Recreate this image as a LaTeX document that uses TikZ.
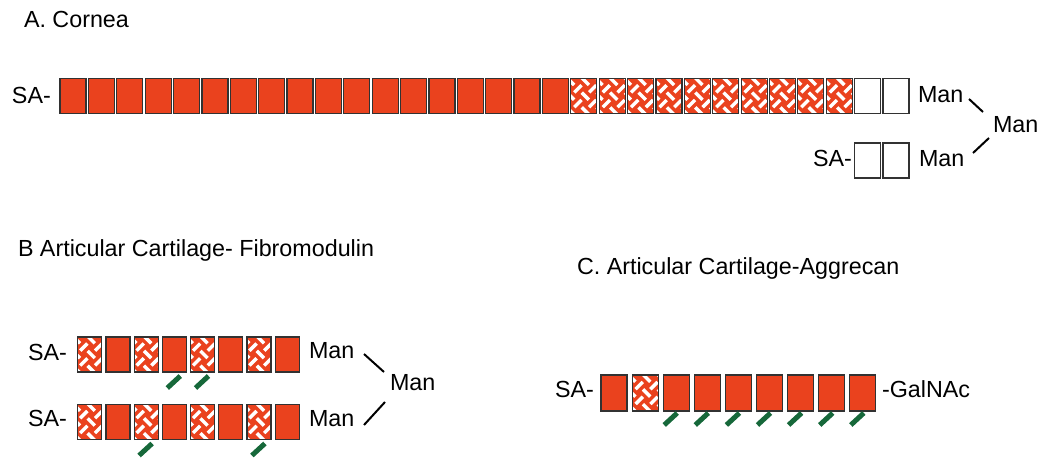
\documentclass[tikz,border=0pt]{standalone}
\usepackage{fontspec}
\setmainfont{Liberation Sans}
\usetikzlibrary{calc}
\definecolor{chainred}{RGB}{234,66,30}
\definecolor{sulfgreen}{RGB}{22,104,58}
\definecolor{edgegray}{RGB}{50,50,50}

\begin{document}
\begin{tikzpicture}[x=1pt,y=-1pt,
  every node/.style={inner sep=0pt, outer sep=0pt},
  lbl/.style={anchor=base west, font=\fontsize{23.3}{28}\selectfont},
  sugar/.style={draw=edgegray, line width=1.2pt},
  unitA/.style={sugar, minimum width=26pt, minimum height=35pt},
  unitB/.style={sugar, minimum width=24pt, minimum height=35pt},
  unitC/.style={sugar, minimum width=26pt, minimum height=36pt},
  solid red/.style={fill=chainred},
  empty/.style={fill=white},
  % diagonal basket weave of short white bars
  weave/.style={fill=chainred, path picture={
    \coordinate (pc) at (path picture bounding box.center);
    \foreach \u in {-3,...,3}{
      \foreach \v in {-3,...,3}{
        \pgfmathtruncatemacro\wp{mod(\u+\v+8,2)}
        \pgfmathsetmacro\cx{(\u-\v)*7.4+1.5}
        \pgfmathsetmacro\cy{(\u+\v)*7.4}
        \ifnum\wp=0
          \draw[white, line width=3.4pt]
            ($(pc)+(\cx-3.6,\cy-3.6)$) -- ($(pc)+(\cx+3.6,\cy+3.6)$);
        \else
          \draw[white, line width=3.4pt]
            ($(pc)+(\cx-3.6,\cy+3.6)$) -- ($(pc)+(\cx+3.6,\cy-3.6)$);
        \fi
      }}}},
  sulfate/.style={draw=sulfgreen, line width=5pt},
  link/.style={draw=black, line width=2pt}
]
\useasboundingbox (0,0) rectangle (1044,462);

% ---------- A. Cornea ----------
\node[lbl] (titleA) at (24,27.3) {A. Cornea};
\node[lbl] (saA) at (12,104) {SA-};
\foreach \i in {1,...,18}
  \node[unitA, solid red] (a\i) at ({73+(\i-1)*28.38},96.2) {};
\foreach \i in {19,...,28}
  \node[unitA, weave] (a\i) at ({73+(\i-1)*28.38},96.2) {};
\foreach \i in {29,30}
  \node[unitA, empty] (a\i) at ({73+(\i-1)*28.38},96.2) {};
\node[unitA, empty] (aL1) at (a29 |- 0,160.5) {};
\node[unitA, empty] (aL2) at (a30 |- 0,160.5) {};
\node[lbl] (saAL) at (813,167) {SA-};
\node[lbl] (manA1) at (918,103) {Man};
\node[lbl] (manA2) at (993,133) {Man};
\node[lbl] (manA3) at (919,167) {Man};
\coordinate (ja1) at (969,99);
\coordinate (ja2) at (983,112);
\coordinate (ja3) at (973,153);
\coordinate (ja4) at (989,138);
\draw[link] (ja1) -- (ja2);
\draw[link] (ja3) -- (ja4);

% ---------- B. Fibromodulin ----------
\node[lbl] (titleB) at (18,257) {B Articular Cartilage- Fibromodulin};
\node[lbl] (saB1) at (28,360) {SA-};
\node[lbl] (saB2) at (28,426) {SA-};
\foreach \i in {1,3,5,7}{
  \node[unitB, weave] (bt\i) at ({89.7+(\i-1)*28.2},354.5) {};
  \node[unitB, weave] (bb\i) at ({89.7+(\i-1)*28.2},422) {};
}
\foreach \i in {2,4,6,8}{
  \node[unitB, solid red] (bt\i) at ({89.7+(\i-1)*28.2},354.5) {};
  \node[unitB, solid red] (bb\i) at ({89.7+(\i-1)*28.2},422) {};
}
\foreach \b in {bt4,bt5,bb3,bb7}
  \draw[sulfate] ($(\b.south)+(6,4)$) -- ($(\b.south)+(-7,16)$);
\node[lbl] (manB1) at (309,358) {Man};
\node[lbl] (manB2) at (390,390) {Man};
\node[lbl] (manB3) at (309,426) {Man};
\coordinate (jb1) at (364,354);
\coordinate (jb2) at (384,372);
\coordinate (jb3) at (364,425);
\coordinate (jb4) at (385,402);
\draw[link] (jb1) -- (jb2);
\draw[link] (jb3) -- (jb4);

% ---------- C. Aggrecan ----------
\node[lbl] (titleC) at (577,275) {C. Articular Cartilage-Aggrecan};
\node[lbl] (saC) at (555,397) {SA-};
\foreach \i in {1,3,4,5,6,7,8,9}
  \node[unitC, solid red] (c\i) at ({614+(\i-1)*31.1},393) {};
\node[unitC, weave] (c2) at ({614+31.1},393) {};
\node[lbl] (galC) at (882,397) {-GalNAc};
\foreach \i in {3,...,9}
  \draw[sulfate] ($(c\i.south)+(1,2)$) -- ($(c\i.south)+(-12,14)$);
\end{tikzpicture}
\end{document}
